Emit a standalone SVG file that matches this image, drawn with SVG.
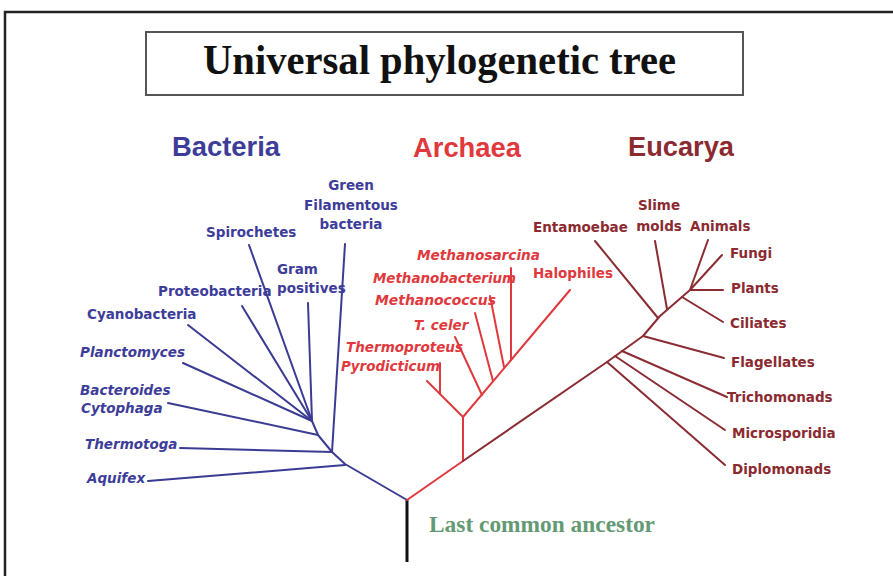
<svg xmlns="http://www.w3.org/2000/svg" width="893" height="576" viewBox="0 0 893 576">
<style>
.bg{fill:#ffffff}
.frame{fill:none;stroke:#222;stroke-width:2.5}
.tbox{fill:#fff;stroke:#555;stroke-width:2}
.title{font-family:"Liberation Serif","Times New Roman",serif;font-weight:bold;font-size:42px;fill:#111}
.dom{font-family:"Liberation Sans",Arial,sans-serif;font-weight:bold;font-size:27px}
.lb{font-family:"DejaVu Sans",Verdana,sans-serif;font-weight:bold;font-size:13.5px}
.it{font-style:italic}
.bac{fill:#3d3d99}
.arc{fill:#e0393d}
.euc{fill:#8b2a30}
.lca{font-family:"Liberation Serif","Times New Roman",serif;font-weight:bold;font-size:22.5px;fill:#639a74}
.eb{stroke:#3b3b94;stroke-width:2;fill:none;stroke-linecap:round;stroke-linejoin:round}
.er{stroke:#e0393d;stroke-width:2;fill:none;stroke-linecap:round;stroke-linejoin:round}
.em{stroke:#8b2c33;stroke-width:2;fill:none;stroke-linecap:round;stroke-linejoin:round}
.ek{stroke:#111;stroke-width:3;fill:none}
</style>
<rect class="bg" x="0" y="0" width="893" height="576"/>
<path class="frame" d="M5,576 V12 H893"/>
<g id="title">
<rect class="tbox" x="146" y="32" width="597" height="63"/>
<text class="title" x="203" y="74" textLength="473" lengthAdjust="spacingAndGlyphs">Universal phylogenetic tree</text>
</g>
<g id="domain-bacteria"><text class="dom bac" x="172" y="156" textLength="108" lengthAdjust="spacingAndGlyphs">Bacteria</text></g>
<g id="domain-archaea"><text class="dom arc" x="413" y="157" textLength="108" lengthAdjust="spacingAndGlyphs">Archaea</text></g>
<g id="domain-eucarya"><text class="dom euc" x="628" y="156" textLength="106" lengthAdjust="spacingAndGlyphs">Eucarya</text></g>

<g id="connectors">
<!-- trunk -->
<line class="ek" x1="407" y1="500" x2="407" y2="562"/>
<!-- bacteria -->
<polyline class="eb" points="407,500 345,464 332,452 318,435 312,421"/>
<line class="eb" x1="148" y1="481" x2="345" y2="465"/>
<line class="eb" x1="180" y1="448" x2="332" y2="452"/>
<line class="eb" x1="168" y1="403" x2="318" y2="435"/>
<line class="eb" x1="183" y1="363" x2="312" y2="421"/>
<line class="eb" x1="188" y1="325" x2="312" y2="421"/>
<line class="eb" x1="242" y1="306" x2="312" y2="421"/>
<line class="eb" x1="249" y1="245" x2="312" y2="421"/>
<line class="eb" x1="308" y1="303" x2="312" y2="421"/>
<line class="eb" x1="345" y1="244" x2="332" y2="452"/>
<!-- archaea -->
<polyline class="er" points="407,500 463,461 463,417"/>
<line class="er" x1="463" y1="417" x2="427" y2="381"/>
<line class="er" x1="440" y1="363" x2="440" y2="394"/>
<line class="er" x1="463" y1="417" x2="570" y2="290"/>
<line class="er" x1="455" y1="337" x2="482" y2="395"/>
<line class="er" x1="475" y1="313" x2="493" y2="381"/>
<line class="er" x1="490" y1="296" x2="504" y2="367"/>
<line class="er" x1="511" y1="268" x2="511" y2="360"/>
<!-- eucarya -->
<polyline class="em" points="463,461 607,362 643,336 660,316 690,290"/>
<line class="em" x1="607" y1="362" x2="725" y2="465"/>
<line class="em" x1="615" y1="356" x2="725" y2="430"/>
<line class="em" x1="622" y1="351" x2="727" y2="397"/>
<line class="em" x1="643" y1="336" x2="724" y2="358"/>
<line class="em" x1="595" y1="241" x2="658" y2="318"/>
<line class="em" x1="655" y1="241" x2="667" y2="309"/>
<line class="em" x1="682" y1="297" x2="723" y2="322"/>
<line class="em" x1="690" y1="290" x2="723" y2="290"/>
<line class="em" x1="690" y1="290" x2="722" y2="255"/>
<line class="em" x1="690" y1="290" x2="708" y2="240"/>
</g>

<!-- bacteria labels -->
<g id="green-filamentous"><text class="lb bac" text-anchor="middle"><tspan x="351" y="190">Green</tspan><tspan x="351" y="210">Filamentous</tspan><tspan x="351" y="229">bacteria</tspan></text></g>
<g id="spirochetes"><text class="lb bac" x="206" y="237">Spirochetes</text></g>
<g id="gram-positives"><text class="lb bac"><tspan x="277" y="274">Gram</tspan><tspan x="277" y="293">positives</tspan></text></g>
<g id="proteobacteria"><text class="lb bac" x="158" y="296">Proteobacteria</text></g>
<g id="cyanobacteria"><text class="lb bac" x="87" y="319">Cyanobacteria</text></g>
<g id="planctomyces"><text class="lb bac it" x="80" y="357">Planctomyces</text></g>
<g id="bacteroides-cytophaga"><text class="lb bac it"><tspan x="80" y="395">Bacteroides</tspan><tspan x="81" y="413">Cytophaga</tspan></text></g>
<g id="thermotoga"><text class="lb bac it" x="85" y="449">Thermotoga</text></g>
<g id="aquifex"><text class="lb bac it" x="87" y="483">Aquifex</text></g>

<!-- archaea labels -->
<g id="methanosarcina"><text class="lb arc it" x="417" y="260" textLength="123" lengthAdjust="spacingAndGlyphs">Methanosarcina</text></g>
<g id="methanobacterium"><text class="lb arc it" x="373" y="283" textLength="143" lengthAdjust="spacingAndGlyphs">Methanobacterium</text></g>
<g id="methanococcus"><text class="lb arc it" x="375" y="305" textLength="121" lengthAdjust="spacingAndGlyphs">Methanococcus</text></g>
<g id="t-celer"><text class="lb arc it" x="414" y="330">T. celer</text></g>
<g id="thermoproteus"><text class="lb arc it" x="346" y="352" textLength="117" lengthAdjust="spacingAndGlyphs">Thermoproteus</text></g>
<g id="pyrodicticum"><text class="lb arc it" x="341" y="371" textLength="99" lengthAdjust="spacingAndGlyphs">Pyrodicticum</text></g>
<g id="halophiles"><text class="lb arc" x="533" y="278">Halophiles</text></g>

<!-- eucarya labels -->
<g id="entamoebae"><text class="lb euc" x="533" y="232">Entamoebae</text></g>
<g id="slime-molds"><text class="lb euc" text-anchor="middle"><tspan x="659" y="210">Slime</tspan><tspan x="659" y="231">molds</tspan></text></g>
<g id="animals"><text class="lb euc" x="690" y="231">Animals</text></g>
<g id="fungi"><text class="lb euc" x="730" y="258">Fungi</text></g>
<g id="plants"><text class="lb euc" x="731" y="293">Plants</text></g>
<g id="ciliates"><text class="lb euc" x="730" y="328">Ciliates</text></g>
<g id="flagellates"><text class="lb euc" x="731" y="367">Flagellates</text></g>
<g id="trichomonads"><text class="lb euc" x="727" y="402">Trichomonads</text></g>
<g id="microsporidia"><text class="lb euc" x="732" y="438">Microsporidia</text></g>
<g id="diplomonads"><text class="lb euc" x="732" y="474">Diplomonads</text></g>

<g id="last-common-ancestor"><text class="lca" x="429" y="532" textLength="226" lengthAdjust="spacingAndGlyphs">Last common ancestor</text></g>
</svg>
